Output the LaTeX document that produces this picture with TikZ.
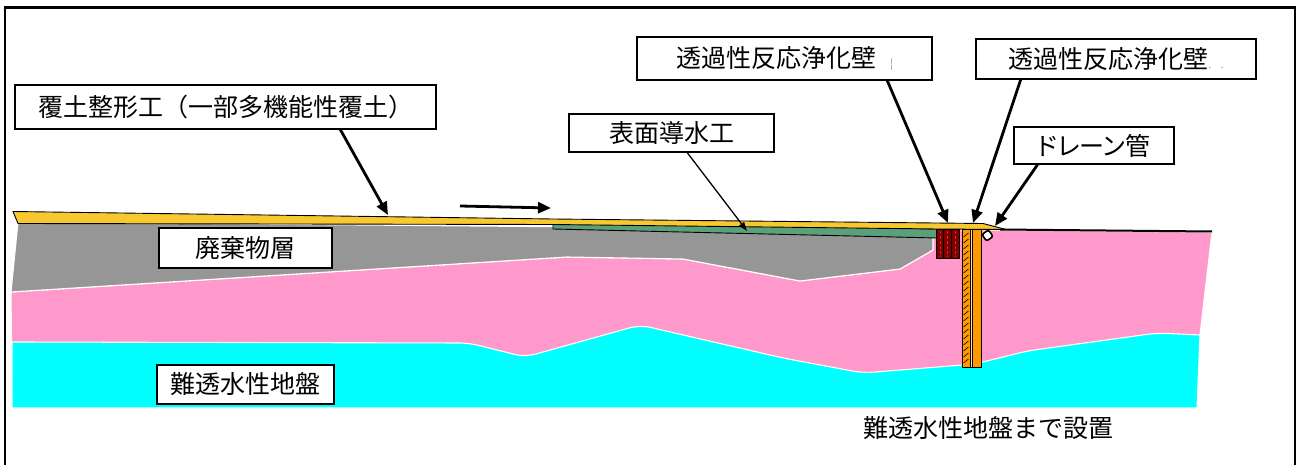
\documentclass[tikz,border=0pt]{standalone}
\usepackage{fontspec}
\setmainfont{Noto Sans CJK JP}
\newfontfamily\jpprop{Noto Sans CJK JP}[RawFeature=+palt]
\usetikzlibrary{arrows.meta,calc}

\definecolor{capsoil}{RGB}{248,200,48}
\definecolor{waste}{RGB}{150,150,150}
\definecolor{clay}{RGB}{255,153,204}
\definecolor{aquitard}{RGB}{0,255,255}
\definecolor{drainlayer}{RGB}{90,160,122}
\definecolor{prbred}{RGB}{128,0,0}
\definecolor{prbstripe}{RGB}{210,40,40}
\definecolor{prborange}{RGB}{255,153,0}

\tikzset{
  labelbox/.style={draw=black, line width=1.1pt, fill=white, inner sep=0pt,
    font=\fontsize{25}{30}\selectfont},
  callout/.style={line width=2.8pt, -{Triangle[length=13pt,width=11pt]}},
  thincallout/.style={line width=1.3pt, -{Triangle[length=9pt,width=6pt]}},
  layeredge/.style={draw=white, line width=1.1pt},
  outline/.style={draw=black, line width=0.9pt}
}

\begin{document}
\begin{tikzpicture}[x=1pt,y=-1pt]
\useasboundingbox (0,0) rectangle (1298,465);

% outer frame
\draw[line width=2.6pt] (5,465) -- (5,7.5) -- (1295,7.5) -- (1295,465);

% clay layer (pink)
\path[fill=clay, layeredge] (11,292) -- (567,257) -- (683,259) -- (800,281) -- (900,269)
  -- (933,250) -- (933,230) -- (1005,230) -- (1212,232) -- (1200,335)
  -- (1197,395) -- (12,395) -- cycle;

% low-permeability ground (cyan)
\path[fill=aquitard, layeredge] (12,408) -- (12,342)
  [rounded corners=10pt] -- (469,343) -- (525,357) -- (640,325)
  -- (783,358) -- (863,373) -- (975,364) -- (1027,351) -- (1157,333)
  [sharp corners] -- (1200,335) -- (1197,408) -- cycle;

% waste layer (gray)
\path[fill=waste, layeredge] (18,222) -- (933,230) -- (933,250) -- (900,269)
  -- (800,281) -- (683,259) -- (567,257) -- (11,292) -- cycle;

% surface drainage layer (green)
\path[fill=drainlayer, outline] (553,221) -- (937,229) -- (937,238) -- (553,229) -- cycle;

% reshaped cover soil (yellow)
\path[fill=capsoil, outline] (13,211.5) -- (553,219) -- (983,223.5) -- (1006,229.5)
  -- (937,229) -- (553,224.5) -- (18,223.5) -- cycle;

% ground surface line on the right
\draw[line width=2pt] (1000,229.5) -- (1212,231.5);

% permeable reactive barrier (dark red blocks)
\path[fill=prbred, outline] (936,229) rectangle (959,258);
\draw[line width=0.8pt] (943.7,229) -- (943.7,258) (951.3,229) -- (951.3,258);
\draw[prbstripe, line width=1pt, dash pattern=on 3pt off 2pt]
  (940,231) -- (940,257) (947.5,231) -- (947.5,257) (955,231) -- (955,257);

% permeable reactive barrier down to the low-permeability ground (orange)
\path[fill=prborange, outline] (962,229) rectangle (970,367);
\foreach \yy in {233,239,...,361}
  \draw[line width=0.6pt] (963.5,\yy+4) -- (968.5,\yy);
\path[fill=prborange!35!white, outline] (970,229) rectangle (972.5,367);
\path[fill=prborange, outline] (972.5,229) rectangle (981,367);

% drain pipe
\node[draw=black, fill=white, line width=1.6pt, minimum size=8pt, inner sep=0pt,
  rounded corners=1.5pt, rotate=35] (pipe) at (987.5,235.5) {};

% labels
\node[labelbox, minimum width=421pt, minimum height=44pt] (capbox) at (225.5,107)
  {覆土整形工（一部多機能性覆土）};
\node[labelbox, minimum width=205pt, minimum height=38pt] (drainbox) at (671.5,133)
  {表面導水工};
\node[labelbox, minimum width=295pt, minimum height=43pt] (prbboxa) at (784.5,58.5)
  {透過性反応浄化壁\hspace{14pt}{\color{gray}\fontsize{10}{10}\selectfont ¦}};
\node[labelbox, minimum width=280pt, minimum height=40pt] (prbboxb) at (1116,59)
  {透過性反応浄化壁{\color{darkgray}\fontsize{8}{8}\selectfont .\hspace{10pt}.}};
\node[labelbox, minimum width=160pt, minimum height=37pt] (pipebox) at (1094,145.5)
  {\jpprop ドレーン管};
\node[labelbox, minimum width=173pt, minimum height=40pt] (wastebox) at (245.5,248)
  {廃棄物層};
\node[labelbox, minimum width=177pt, minimum height=39pt] (groundbox) at (245.5,384.5)
  {難透水性地盤};
\node[font=\fontsize{25}{30}\selectfont, inner sep=0pt] (installnote) at (988,428)
  {難透水性地盤まで設置};

% callout targets
\coordinate (captip) at (388,215);
\coordinate (draintip) at (747,231);
\coordinate (prbtipa) at (948,223);
\coordinate (prbtipb) at (973,223);
\coordinate (pipetip) at (995,226);

% flow direction arrow
\coordinate (flowstart) at (460,206);
\coordinate (flowend) at (551,208);
\draw[callout] (flowstart) -- (flowend);

% callouts
\draw[callout] ($(capbox.south west)!0.772!(capbox.south east)$) -- (captip);
\draw[thincallout] ($(drainbox.south west)!0.576!(drainbox.south east)$) -- (draintip);
\draw[callout] ($(prbboxa.south west)!0.847!(prbboxa.south east)$) -- (prbtipa);
\draw[callout] ($(prbboxb.south west)!0.161!(prbboxb.south east)$) -- (prbtipb);
\draw[callout] ($(pipebox.south west)!0.15!(pipebox.south east)$) -- (pipetip);
\end{tikzpicture}
\end{document}
